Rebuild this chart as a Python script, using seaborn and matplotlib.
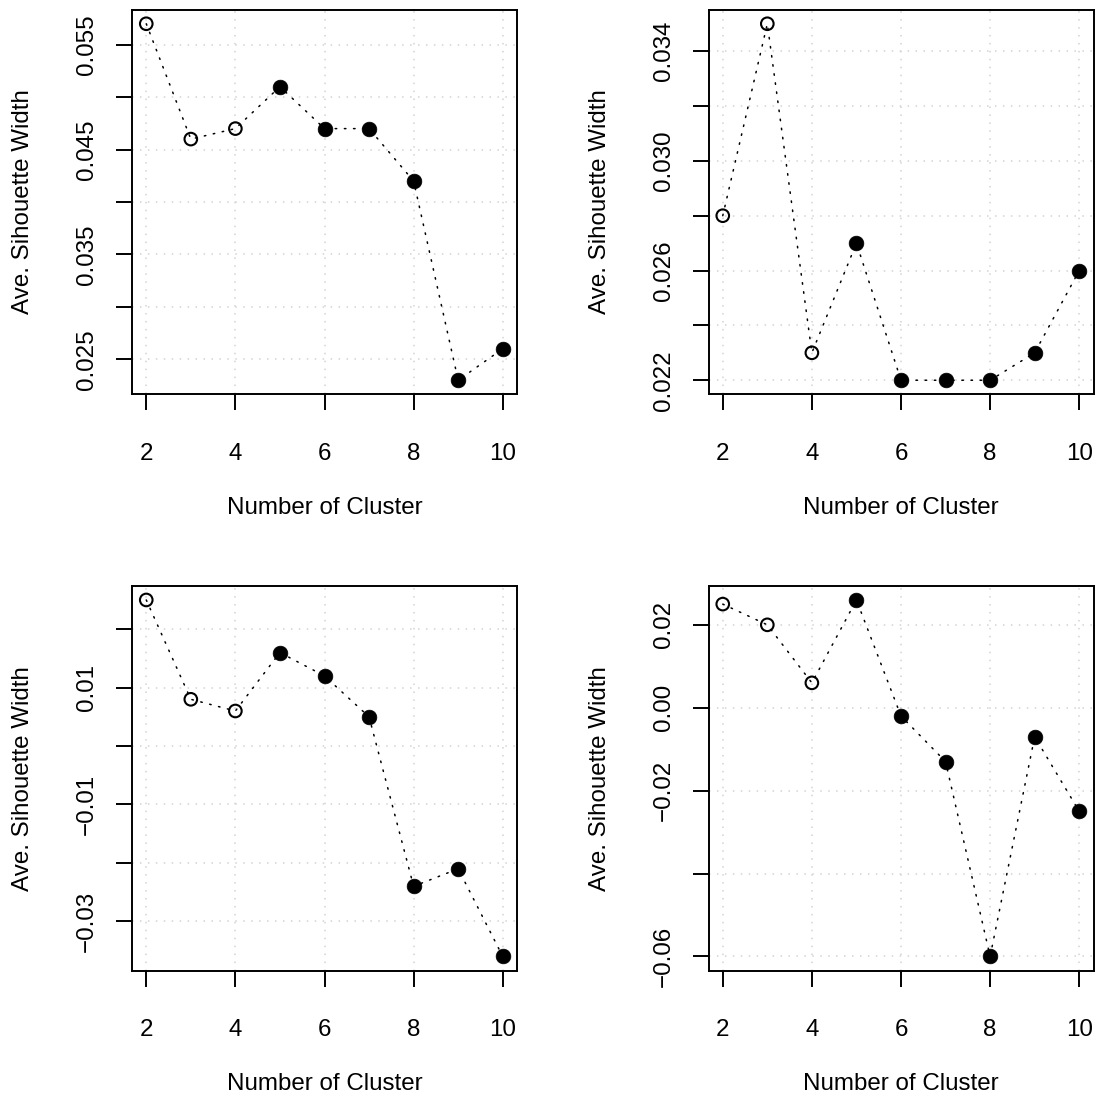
import numpy as np
import pandas as pd
import seaborn as sns
import matplotlib
matplotlib.use("Agg")
import matplotlib.pyplot as plt

# Average silhouette width for k = 2..10 clusters, four data sets
clusters = [2, 3, 4, 5, 6, 7, 8, 9, 10]
sil_a = [0.057, 0.046, 0.047, 0.051, 0.047, 0.047, 0.042, 0.023, 0.026]
sil_b = [0.028, 0.035, 0.023, 0.027, 0.022, 0.022, 0.022, 0.023, 0.026]
sil_c = [0.025, 0.008, 0.006, 0.016, 0.012, 0.005, -0.024, -0.021, -0.036]
sil_d = [0.025, 0.020, 0.006, 0.026, -0.002, -0.013, -0.060, -0.007, -0.025]
# first three solutions drawn as open circles, the rest filled
open_point = [True, True, True, False, False, False, False, False, False]

x_ticks = [2, 4, 6, 8, 10]
y_ticks_a = [0.025, 0.030, 0.035, 0.040, 0.045, 0.050, 0.055]
y_labels_a = ["0.025", "", "0.035", "", "0.045", "", "0.055"]
y_ticks_b = [0.022, 0.024, 0.026, 0.028, 0.030, 0.032, 0.034]
y_labels_b = ["0.022", "", "0.026", "", "0.030", "", "0.034"]
y_ticks_c = [-0.03, -0.02, -0.01, 0.00, 0.01, 0.02]
y_labels_c = ["\u22120.03", "", "\u22120.01", "", "0.01", ""]
y_ticks_d = [-0.06, -0.04, -0.02, 0.00, 0.02]
y_labels_d = ["\u22120.06", "", "\u22120.02", "0.00", "0.02"]

sns.set_style("white")
plt.rcParams["font.family"] = ["Liberation Sans", "DejaVu Sans"]
FS = 17.4

W, H = 1098, 1097
fig = plt.figure(figsize=(W / 100, H / 100), dpi=100)

# panel boxes in pixels: (left, top, width, height)
boxes = [(132, 9.5, 385, 385), (708.5, 9.5, 385, 385),
         (132, 585.7, 385, 385), (708.5, 585.7, 385, 385)]
series = [sil_a, sil_b, sil_c, sil_d]
yticks = [y_ticks_a, y_ticks_b, y_ticks_c, y_ticks_d]
ylabels = [y_labels_a, y_labels_b, y_labels_c, y_labels_d]

for (l, t, w, h), vals, yt, yl in zip(boxes, series, yticks, ylabels):
    ax = fig.add_axes([l / W, 1 - (t + h) / H, w / W, h / H])
    df = pd.DataFrame({"k": clusters, "sil": vals, "open": open_point})

    sns.lineplot(data=df, x="k", y="sil", ax=ax, color="black",
                 linewidth=1.1, linestyle=(0, (1, 5)), zorder=2)
    ax.lines[-1].set_dash_capstyle("round")
    sns.scatterplot(data=df[df["open"]], x="k", y="sil", ax=ax, s=82,
                    facecolor="none", edgecolor="black", linewidth=1.5,
                    zorder=3)
    sns.scatterplot(data=df[~df["open"]], x="k", y="sil", ax=ax, s=112,
                    color="black", edgecolor="black", linewidth=0.5,
                    zorder=3)

    # R-style 4% padding around the data range
    lo, hi = min(vals), max(vals)
    pad = 0.04 * (hi - lo)
    ax.set_ylim(lo - pad, hi + pad)
    xpad = 0.04 * (max(clusters) - min(clusters))
    ax.set_xlim(min(clusters) - xpad, max(clusters) + xpad)

    ax.set_xticks(x_ticks)
    ax.set_xticklabels([str(v) for v in x_ticks], fontsize=FS)
    ax.set_yticks(yt)
    ax.set_yticklabels(yl, fontsize=FS, rotation=90, va="center")

    ax.grid(True, color="lightgray", linewidth=1.1, linestyle=(0, (1, 4.2)))
    ax.set_axisbelow(True)

    for sp in ax.spines.values():
        sp.set_visible(True)
        sp.set_color("black")
        sp.set_linewidth(1.4)

    ax.tick_params(axis="x", bottom=True, direction="out", length=11.8,
                   width=1.4, color="black", pad=23.0, labelcolor="black")
    ax.tick_params(axis="y", left=True, direction="out", length=11.8,
                   width=1.4, color="black", pad=12.5, labelcolor="black")

    ax.set_xlabel("Number of Cluster", fontsize=FS, color="black")
    ax.set_ylabel("Ave. Sihouette Width", fontsize=FS, color="black")
    ax.xaxis.label.set_va("center")
    ax.yaxis.label.set_va("center")
    ax.yaxis.label.set_ha("center")
    # axis titles at fixed offsets from the box
    ax.xaxis.set_label_coords(0.5, -113.5 / h)
    ax.yaxis.set_label_coords(-109 / w, 0.5)

fig.savefig("out.png", dpi=100, facecolor="white")
